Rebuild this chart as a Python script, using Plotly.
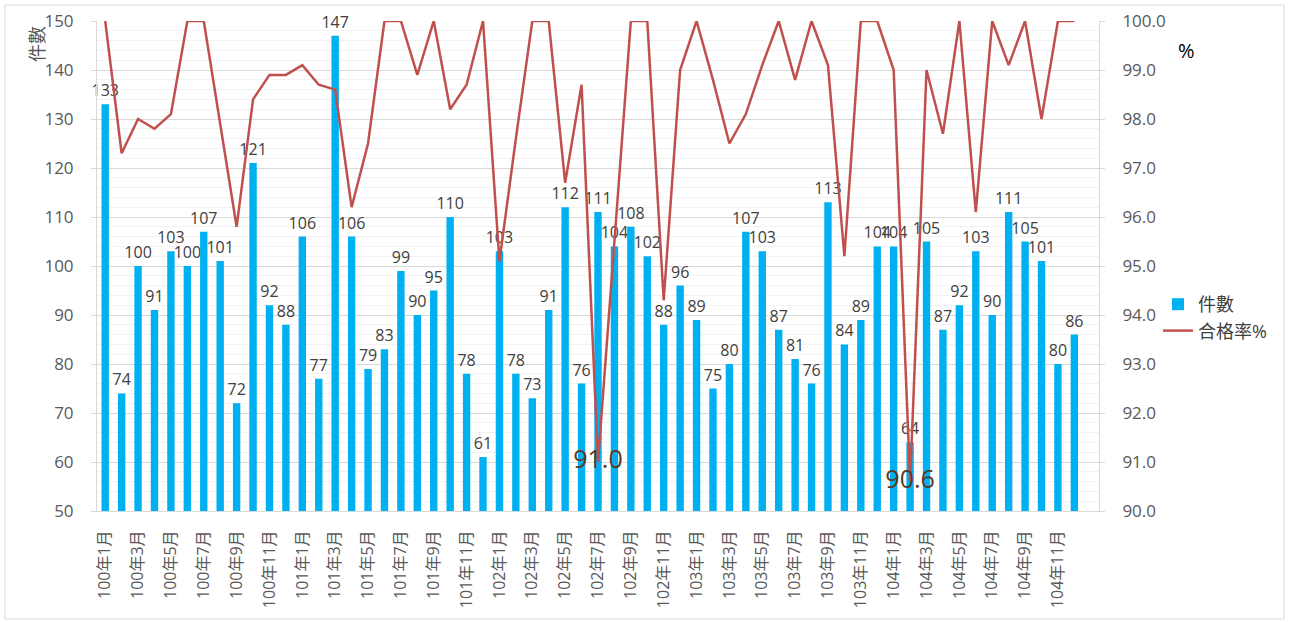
import plotly.graph_objects as go

years = [100, 101, 102, 103, 104]
months = list(range(1, 13))
categories = [f"{y}年{m}月" for y in years for m in months]

counts = [
    133, 74, 100, 91, 103, 100, 107, 101, 72, 121, 92, 88,
    106, 77, 147, 106, 79, 83, 99, 90, 95, 110, 78, 61,
    103, 78, 73, 91, 112, 76, 111, 104, 108, 102, 88, 96,
    89, 75, 80, 107, 103, 87, 81, 76, 113, 84, 89, 104,
    104, 64, 105, 87, 92, 103, 90, 111, 105, 101, 80, 86,
]

pass_rate = [
    100.0, 97.3, 98.0, 97.8, 98.1, 100.0, 100.0, 97.9, 95.8, 98.4, 98.9, 98.9,
    99.1, 98.7, 98.6, 96.2, 97.5, 100.0, 100.0, 98.9, 100.0, 98.2, 98.7, 100.0,
    95.1, 97.6, 100.0, 100.0, 96.7, 98.7, 91.0, 95.5, 100.0, 100.0, 94.3, 99.0,
    100.0, 98.8, 97.5, 98.1, 99.1, 100.0, 98.8, 100.0, 99.1, 95.2, 100.0, 100.0,
    99.0, 90.6, 99.0, 97.7, 100.0, 96.1, 100.0, 99.1, 100.0, 98.0, 100.0, 100.0,
]

# only the two minima carry a data label
rate_labels = ["91.0" if c == "102年7月" else "90.6" if c == "104年2月" else "" for c in categories]

tick_labels = categories[::2]

FONT = "Open Sans, Noto Sans CJK TC, sans-serif"

fig = go.Figure()

fig.add_trace(go.Bar(
    x=categories, y=counts, name="件數",
    marker=dict(color="#00b0f0", line=dict(width=0)),
    width=0.45,
    text=counts, texttemplate="%{y}", textposition="outside",
    textfont=dict(size=16, color="#404040", family=FONT),
    constraintext="none", cliponaxis=False,
    yaxis="y",
))

fig.add_trace(go.Scatter(
    x=categories, y=pass_rate, name="合格率%",
    mode="lines+text",
    line=dict(color="#c0504d", width=2.5),
    text=rate_labels, textposition="middle center",
    textfont=dict(size=25, color="#5a3a1e", family=FONT),
    cliponaxis=False,
    yaxis="y2",
))

L, R, T, B = 97, 1099, 21, 511
W, H = 1290, 622
pw, ph = R - L, B - T

def px(x):
    return (x - L) / pw

def py(y):
    return (B - y) / ph

fig.update_layout(
    width=W, height=H,
    margin=dict(l=L, r=W - R, t=T, b=H - B, pad=0, autoexpand=False),
    paper_bgcolor="white", plot_bgcolor="white",
    font=dict(family=FONT, color="#595959"),
    xaxis=dict(
        type="category", automargin=False,
        range=[-0.5, len(categories) + 0.5],
        tickmode="array", tickvals=tick_labels, ticktext=tick_labels,
        tickangle=-90, tickfont=dict(size=16, color="#595959"),
        showline=True, linecolor="#d9d9d9", linewidth=1,
        ticks="", ticklabelstandoff=12,
        showgrid=False,
    ),
    yaxis=dict(
        range=[50, 150], dtick=10, automargin=False,
        tickfont=dict(size=17, color="#595959"),
        showgrid=True, gridcolor="#d9d9d9", gridwidth=1,
        minor=dict(dtick=2, showgrid=True, gridcolor="#f2f2f2", gridwidth=1),
        showline=True, linecolor="#d9d9d9", linewidth=1,
        ticks="outside", ticklen=5, tickcolor="#d9d9d9",
        ticklabelstandoff=14,
        zeroline=False,
    ),
    yaxis2=dict(
        range=[90, 100], dtick=1, tickformat=".1f", automargin=False,
        overlaying="y", side="right",
        tickfont=dict(size=17, color="#595959"),
        showgrid=False,
        showline=True, linecolor="#d9d9d9", linewidth=1,
        ticks="outside", ticklen=5, tickcolor="#d9d9d9",
        ticklabelstandoff=14,
        zeroline=False,
    ),
    legend=dict(
        x=px(1158), y=py(286), xanchor="left", yanchor="top",
        font=dict(size=18, color="#404040", family=FONT),
        bgcolor="rgba(0,0,0,0)", itemwidth=30, tracegroupgap=2,
    ),
    showlegend=True,
    annotations=[
        dict(text="件數", x=px(37), y=py(44), xref="paper", yref="paper",
             xanchor="center", yanchor="middle",
             textangle=-90, showarrow=False,
             font=dict(size=18, color="#595959", family=FONT)),
        dict(text="%", x=px(1197), y=py(35), xref="paper", yref="paper",
             showarrow=False, font=dict(size=20, color="#000000", family=FONT)),
    ],
    shapes=[
        dict(type="rect", xref="paper", yref="paper",
             x0=px(5), x1=px(1284), y0=py(619), y1=py(5),
             line=dict(color="#d9d9d9", width=1), fillcolor="rgba(0,0,0,0)",
             layer="below"),
    ],
)

fig.write_html(
    "out.html",
    config={"displayModeBar": False},
    post_script="document.body.style.margin='0';document.body.style.overflow='hidden';",
)
